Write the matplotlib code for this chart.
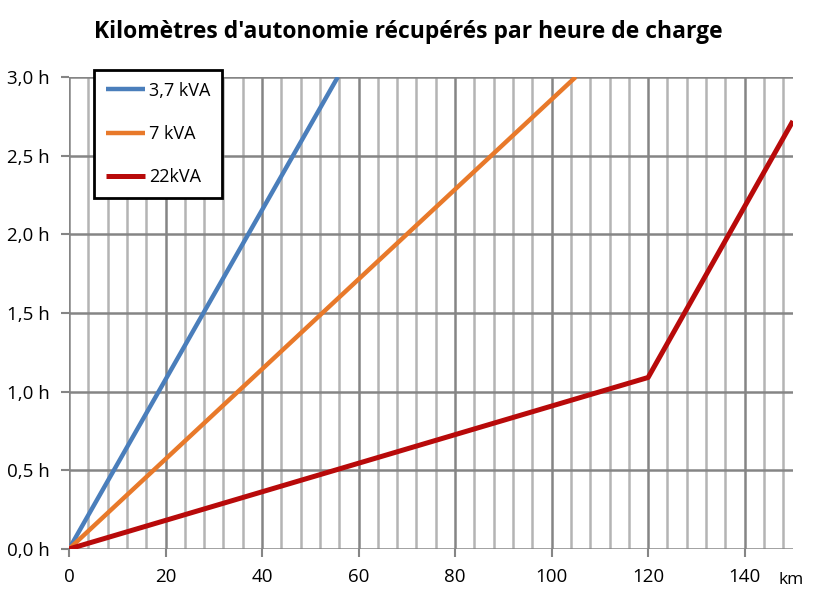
import matplotlib.pyplot as plt
from matplotlib.ticker import MultipleLocator, FuncFormatter

plt.rcParams['font.family'] = ['Open Sans', 'DejaVu Sans']

# km recovered vs charging time (h)
km_37 = [0, 55.7]
h_37 = [0, 3.0]
km_7 = [0, 105]
h_7 = [0, 3.0]
km_22 = [0, 120, 150]
h_22 = [0, 1.09, 2.72]
labels = ['3,7 kVA', '7 kVA', '22kVA']

fig = plt.figure(figsize=(8.17, 5.96), dpi=100)
ax = fig.add_axes([0.0845, 0.0789, 0.886, 0.792])

ax.plot(km_37, h_37, color='#4A7EBB', lw=3.2, label=labels[0], solid_capstyle='butt')
ax.plot(km_7, h_7, color='#E8792A', lw=3.2, label=labels[1], solid_capstyle='butt')
ax.plot(km_22, h_22, color='#B80A0A', lw=3.6, label=labels[2], solid_capstyle='butt')

ax.set_xlim(0, 150)
ax.set_ylim(0, 3.0)
ax.xaxis.set_major_locator(MultipleLocator(20))
ax.xaxis.set_minor_locator(MultipleLocator(4))
ax.yaxis.set_major_locator(MultipleLocator(0.5))
ax.yaxis.set_major_formatter(FuncFormatter(lambda v, p: ('%.1f h' % v).replace('.', ',')))

ax.grid(which='major', color='#858585', lw=1.8)
ax.grid(which='minor', axis='x', color='#b4b4b4', lw=1.8)
ax.set_axisbelow(True)
for s in ax.spines.values():
    s.set_visible(False)
ax.tick_params(which='major', length=6, width=1.5, color='#858585', labelsize=13.5, pad=8)
ax.tick_params(which='minor', length=0)

fig.text(0.5, 1 - 32 / 596, "Kilomètres d'autonomie récupérés par heure de charge",
         fontsize=16.5, fontweight='bold', ha='center', va='center')
fig.text(779 / 817, 1 - 580 / 596, 'km', fontsize=12.5, ha='left', va='center')

leg = ax.legend(loc='upper left', bbox_to_anchor=(94 / 817, 1 - 70 / 596),
                bbox_transform=fig.transFigure, borderaxespad=0, fontsize=13,
                fancybox=False, framealpha=1, edgecolor='black', handlelength=2.2,
                handletextpad=0.2, labelspacing=1.4, borderpad=0.65)
leg.get_frame().set_linewidth(2)

fig.savefig('out.png', dpi=100)
